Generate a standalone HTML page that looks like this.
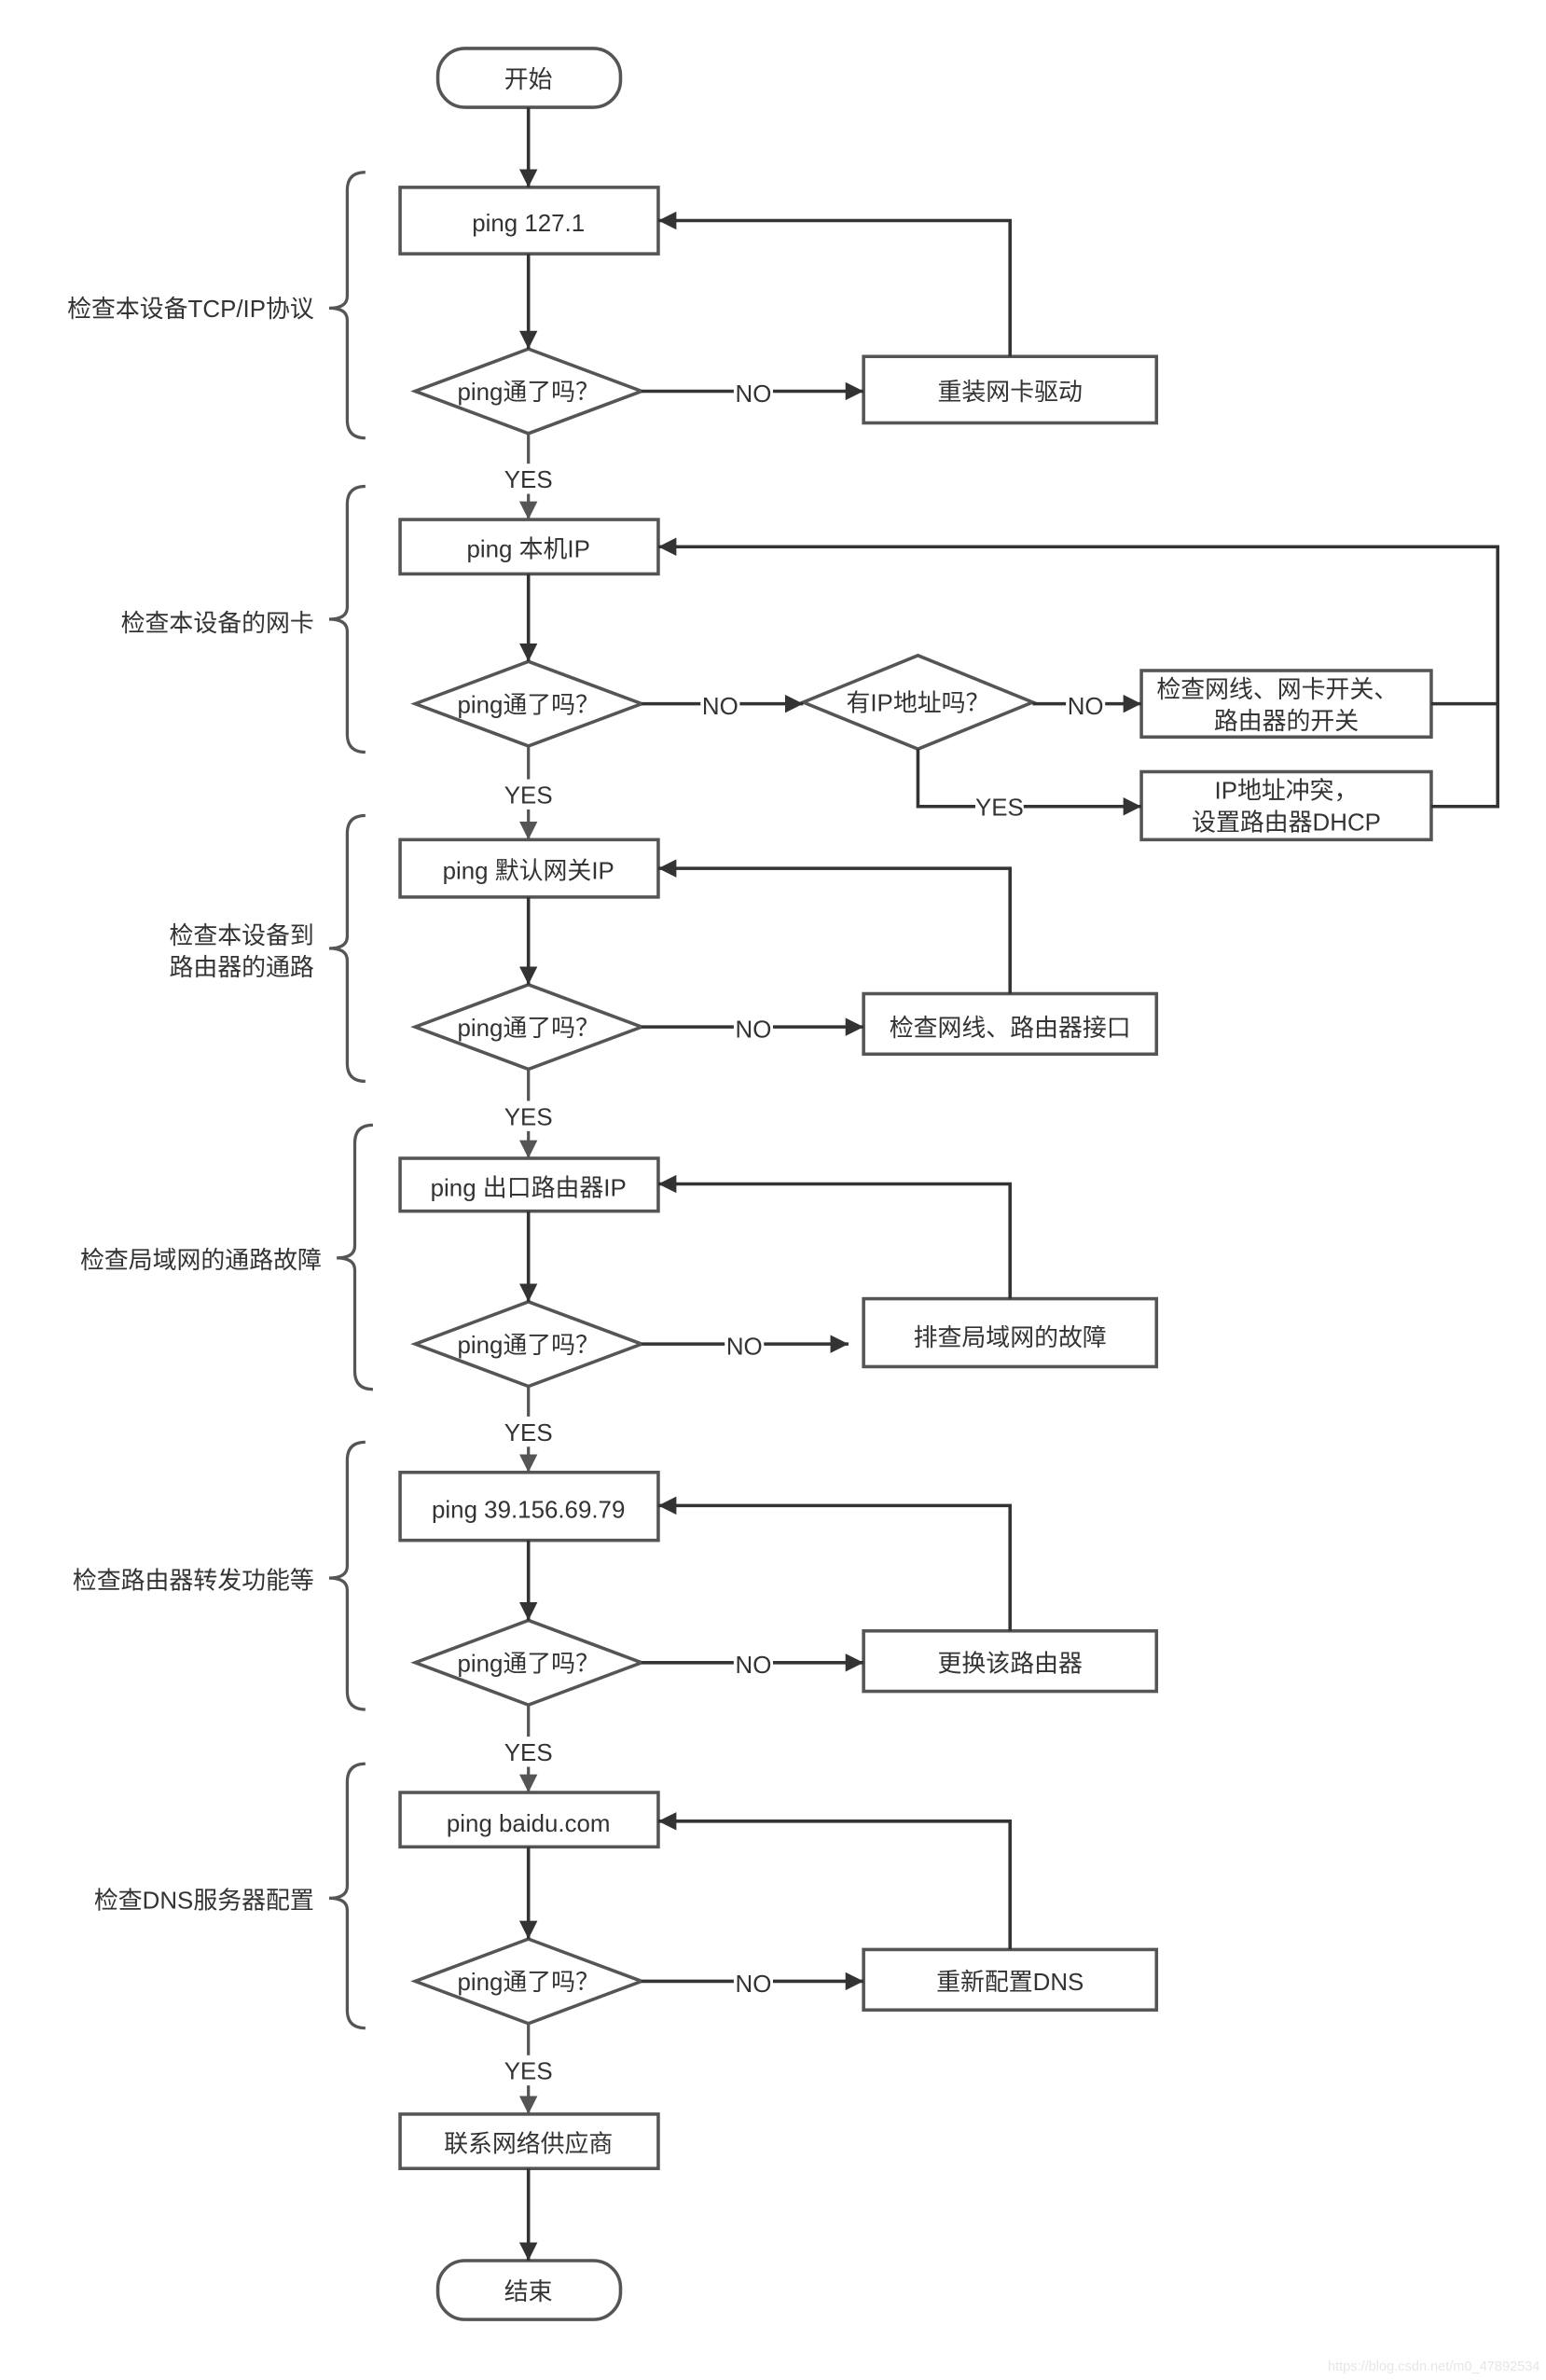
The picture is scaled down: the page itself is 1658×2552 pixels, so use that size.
<!DOCTYPE html>
<html><head><meta charset="utf-8"><style>
html,body{margin:0;padding:0;background:#fff;}
svg{display:block;}
text{font-family:"Liberation Sans","Noto Sans CJK SC",sans-serif;font-size:16px;fill:#333;}
</style></head><body>
<svg width="1658" height="2552" viewBox="0 0 1024 1576" xmlns="http://www.w3.org/2000/svg">
<defs>
<marker id="a" viewBox="0 0 12 12" refX="12" refY="6" markerWidth="12" markerHeight="12" markerUnits="userSpaceOnUse" orient="auto"><path d="M0,0 L12,6 L0,12 z" fill="#333"/></marker>
<marker id="g" viewBox="0 0 12 12" refX="12" refY="6" markerWidth="12" markerHeight="12" markerUnits="userSpaceOnUse" orient="auto"><path d="M0,0 L12,6 L0,12 z" fill="#555"/></marker>
</defs>
<g fill="#fff" stroke="#555" stroke-width="2.2">
<rect x="290" y="32" width="121" height="39" rx="18"/>
<rect x="265" y="124" width="171" height="44"/>
<rect x="572" y="236" width="194" height="44"/>
<rect x="265" y="344" width="171" height="36"/>
<rect x="756" y="444" width="192" height="44"/>
<rect x="756" y="511" width="192" height="45"/>
<rect x="265" y="556" width="171" height="38"/>
<rect x="572" y="658" width="194" height="40"/>
<rect x="265" y="767" width="171" height="35"/>
<rect x="572" y="860" width="194" height="45"/>
<rect x="265" y="975" width="171" height="45"/>
<rect x="572" y="1080" width="194" height="40"/>
<rect x="265" y="1187" width="171" height="36"/>
<rect x="572" y="1291" width="194" height="40"/>
<rect x="265" y="1400" width="171" height="36"/>
<rect x="290" y="1497" width="121" height="39" rx="18"/>
<polygon points="275,259 350,231 425,259 350,287"/>
<polygon points="275,466 350,438 425,466 350,494"/>
<polygon points="532,465 608,434 684,465 608,496"/>
<polygon points="275,680 350,652 425,680 350,708"/>
<polygon points="275,890 350,862 425,890 350,918"/>
<polygon points="275,1101 350,1073 425,1101 350,1129"/>
<polygon points="275,1312 350,1284 425,1312 350,1340"/>
</g>
<g fill="none" stroke="#555" stroke-width="2">
<path d="M242,114 Q230,114 230,126 V196 Q230,204 218,204 Q230,204 230,212 V278 Q230,290 242,290"/>
<path d="M242,322 Q230,322 230,334 V402 Q230,410 218,410 Q230,410 230,418 V486 Q230,498 242,498"/>
<path d="M242,540 Q230,540 230,552 V620 Q230,628 218,628 Q230,628 230,636 V704 Q230,716 242,716"/>
<path d="M247,745 Q235,745 235,757 V825 Q235,833 223,833 Q235,833 235,841 V908 Q235,920 247,920"/>
<path d="M242,955 Q230,955 230,967 V1037 Q230,1045 218,1045 Q230,1045 230,1053 V1120 Q230,1132 242,1132"/>
<path d="M242,1168 Q230,1168 230,1180 V1249 Q230,1257 218,1257 Q230,1257 230,1265 V1331 Q230,1343 242,1343"/>
</g>
<g fill="none" stroke="#333" stroke-width="2.2">
<line x1="350" y1="71" x2="350" y2="124" marker-end="url(#a)"/>
<line x1="350" y1="168" x2="350" y2="231" marker-end="url(#a)"/>
<line x1="425" y1="259" x2="572" y2="259" marker-end="url(#a)"/>
<polyline points="669,236 669,146 436,146" marker-end="url(#a)"/>
<line x1="350" y1="380" x2="350" y2="438" marker-end="url(#a)"/>
<line x1="425" y1="466" x2="532" y2="466" marker-end="url(#a)"/>
<line x1="684" y1="466" x2="756" y2="466" marker-end="url(#a)"/>
<polyline points="608,496 608,534 756,534" marker-end="url(#a)"/>
<polyline points="948,466 992,466"/>
<polyline points="948,534 992,534 992,362 436,362" marker-end="url(#a)"/>
<line x1="350" y1="594" x2="350" y2="652" marker-end="url(#a)"/>
<line x1="425" y1="680" x2="572" y2="680" marker-end="url(#a)"/>
<polyline points="669,658 669,575 436,575" marker-end="url(#a)"/>
<line x1="350" y1="802" x2="350" y2="862" marker-end="url(#a)"/>
<line x1="425" y1="890" x2="562" y2="890" marker-end="url(#a)"/>
<polyline points="669,860 669,784 436,784" marker-end="url(#a)"/>
<line x1="350" y1="1020" x2="350" y2="1073" marker-end="url(#a)"/>
<line x1="425" y1="1101" x2="572" y2="1101" marker-end="url(#a)"/>
<polyline points="669,1080 669,997 436,997" marker-end="url(#a)"/>
<line x1="350" y1="1223" x2="350" y2="1284" marker-end="url(#a)"/>
<line x1="425" y1="1312" x2="572" y2="1312" marker-end="url(#a)"/>
<polyline points="669,1291 669,1206 436,1206" marker-end="url(#a)"/>
<line x1="350" y1="1436" x2="350" y2="1497" marker-end="url(#a)"/>
</g>
<g fill="none" stroke="#555" stroke-width="2">
<line x1="350" y1="287" x2="350" y2="344" marker-end="url(#g)"/>
<line x1="350" y1="494" x2="350" y2="556" marker-end="url(#g)"/>
<line x1="350" y1="708" x2="350" y2="767" marker-end="url(#g)"/>
<line x1="350" y1="918" x2="350" y2="975" marker-end="url(#g)"/>
<line x1="350" y1="1129" x2="350" y2="1187" marker-end="url(#g)"/>
<line x1="350" y1="1340" x2="350" y2="1400" marker-end="url(#g)"/>
</g>
<g fill="#fff">
<rect x="334" y="307" width="32" height="20"/><rect x="334" y="516" width="32" height="20"/>
<rect x="334" y="729" width="32" height="20"/><rect x="334" y="938" width="32" height="20"/>
<rect x="334" y="1150" width="32" height="20"/><rect x="334" y="1361" width="32" height="20"/>
<rect x="486" y="250" width="26" height="20"/><rect x="464" y="457" width="26" height="20"/>
<rect x="706" y="457" width="26" height="20"/><rect x="646" y="525" width="32" height="20"/>
<rect x="486" y="671" width="26" height="20"/><rect x="480" y="881" width="26" height="20"/>
<rect x="486" y="1092" width="26" height="20"/><rect x="486" y="1303" width="26" height="20"/>
</g>
<g text-anchor="middle">
<text x="350" y="58">开始</text>
<text x="350" y="153">ping 127.1</text>
<text x="350" y="265">ping通了吗？</text>
<text x="669" y="265">重装网卡驱动</text>
<text x="350" y="369">ping 本机IP</text>
<text x="350" y="472">ping通了吗？</text>
<text x="608" y="471">有IP地址吗？</text>
<text x="846" y="462">检查网线、网卡开关、</text>
<text x="852" y="483">路由器的开关</text>
<text x="852" y="529">IP地址冲突，</text>
<text x="852" y="550">设置路由器DHCP</text>
<text x="350" y="582">ping 默认网关IP</text>
<text x="350" y="686">ping通了吗？</text>
<text x="669" y="686">检查网线、路由器接口</text>
<text x="350" y="792">ping 出口路由器IP</text>
<text x="350" y="896">ping通了吗？</text>
<text x="669" y="891">排查局域网的故障</text>
<text x="350" y="1005">ping 39.156.69.79</text>
<text x="350" y="1107">ping通了吗？</text>
<text x="669" y="1107">更换该路由器</text>
<text x="350" y="1213">ping baidu.com</text>
<text x="350" y="1318">ping通了吗？</text>
<text x="669" y="1318">重新配置DNS</text>
<text x="350" y="1425">联系网络供应商</text>
<text x="350" y="1523">结束</text>
<text x="350" y="323">YES</text><text x="350" y="532">YES</text>
<text x="350" y="745">YES</text><text x="350" y="954">YES</text>
<text x="350" y="1166">YES</text><text x="350" y="1377">YES</text>
<text x="499" y="266">NO</text><text x="477" y="473">NO</text>
<text x="719" y="473">NO</text><text x="662" y="540">YES</text>
<text x="499" y="687">NO</text><text x="493" y="897">NO</text>
<text x="499" y="1108">NO</text><text x="499" y="1319">NO</text>
</g>
<g text-anchor="end">
<text x="208" y="210">检查本设备TCP/IP协议</text>
<text x="208" y="418">检查本设备的网卡</text>
<text x="208" y="625">检查本设备到</text>
<text x="208" y="646">路由器的通路</text>
<text x="213" y="840">检查局域网的通路故障</text>
<text x="208" y="1052">检查路由器转发功能等</text>
<text x="208" y="1264">检查DNS服务器配置</text>
<text x="1020" y="1570" style="font-size:9px;fill:#e6e6e6">https://blog.csdn.net/m0_47892534</text>
</g>
</svg>
</body></html>
